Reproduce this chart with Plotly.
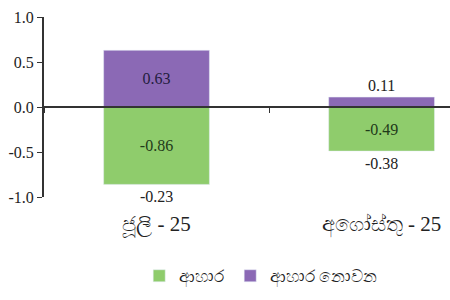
import plotly.graph_objects as go

categories = ["ජූලි - 25", "අගෝස්තු - 25"]
food = [-0.86, -0.49]
nonfood = [0.63, 0.11]
totals = [-0.23, -0.38]
series_names = ["ආහාර", "ආහාර නොවන"]
ytick_vals = [-1.0, -0.5, 0.0, 0.5, 1.0]
ytick_text = ["-1.0", "-0.5", "0.0", "0.5", "1.0"]

serif = "Liberation Serif, Times New Roman, serif"
green = "#8FCC6C"
purple = "#8B69B5"

fig = go.Figure()
fig.add_trace(go.Bar(
    x=categories, y=food, name=series_names[0], marker_color=green,
    text=[f"{v:.2f}" for v in food], textposition="inside", insidetextanchor="middle",
    textfont=dict(family=serif, size=16, color="#1f3a1a"), width=0.47,
))
fig.add_trace(go.Bar(
    x=categories, y=nonfood, name=series_names[1], marker_color=purple,
    text=[f"{v:.2f}" for v in nonfood], textposition=["inside", "outside"],
    insidetextanchor="middle",
    textfont=dict(family=serif, size=16, color="#231c40"),
    outsidetextfont=dict(family=serif, size=16, color="#222222"),
    width=0.47, cliponaxis=False,
))
# invisible trace to carry the bottom category labels
fig.add_trace(go.Scatter(
    x=categories, y=food, mode="markers", marker=dict(opacity=0),
    showlegend=False, hoverinfo="skip", xaxis="x2",
))

# totals shown below the stack
for c, f, t in zip(categories, food, totals):
    fig.add_annotation(x=c, y=f, xref="x", yref="y", text=f"{t:.2f}", showarrow=False,
                       yanchor="middle", yshift=-12,
                       font=dict(family=serif, size=16, color="#222222"))

fig.update_layout(
    width=450, height=300, barmode="relative",
    margin=dict(l=44, r=0, t=17, b=103),
    paper_bgcolor="white", plot_bgcolor="white",
    font=dict(family=serif, size=15, color="#222222"),
    xaxis=dict(type="category", categoryorder="array", categoryarray=categories,
               range=[-0.5, 1.304], anchor="free", position=0.5,
               showline=True, linecolor="#333333", linewidth=2,
               ticks="outside", tickson="boundaries", ticklen=5, tickcolor="#333333",
               showticklabels=False, showgrid=False, zeroline=False),
    xaxis2=dict(type="category", categoryorder="array", categoryarray=categories,
                range=[-0.5, 1.304], overlaying="x", anchor="y", side="bottom",
                showline=False, ticks="", showgrid=False, zeroline=False,
                ticklabelstandoff=12,
                tickfont=dict(family=serif, size=21, color="#222222")),
    yaxis=dict(range=[-1, 1], tickmode="array", tickvals=ytick_vals, ticktext=ytick_text,
               showline=True, linecolor="#333333", linewidth=2, ticks="outside", ticklen=5,
               tickcolor="#333333", showgrid=False, zeroline=False,
               tickfont=dict(family=serif, size=16, color="#222222")),
    legend=dict(orientation="h", x=0.535, xanchor="center", y=-0.44, yanchor="middle",
                font=dict(family=serif, size=17, color="#222222"), traceorder="normal"),
    showlegend=True,
)

fig.write_html("out.html")
